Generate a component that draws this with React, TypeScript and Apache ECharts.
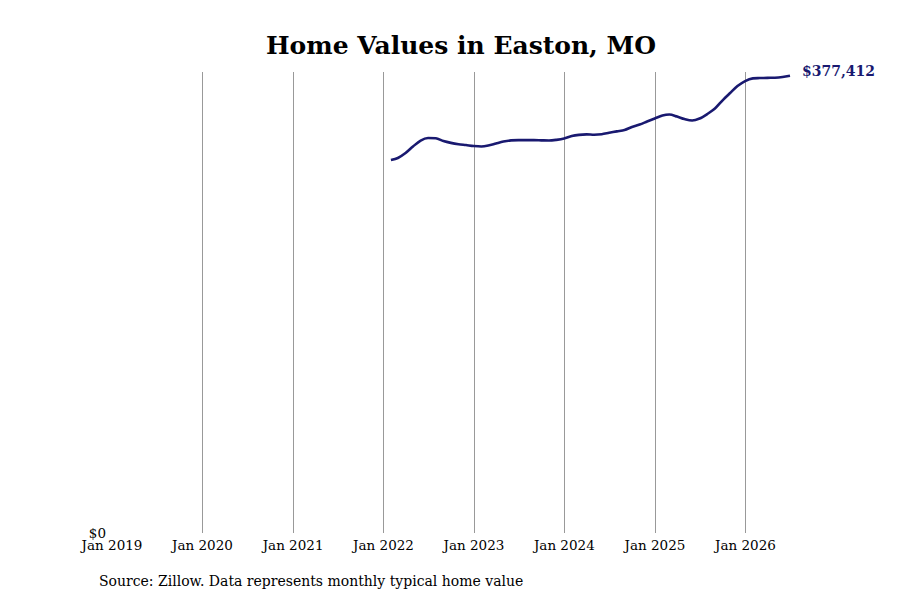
import { useEffect, useRef } from 'react';
import * as echarts from 'echarts';

// Zillow typical home value, monthly (month-end), Jan 2022 .. Jun 2026
const START_YEAR = 2022;
const START_MONTH = 1;
const homeValues = [
  307840, 309490, 313610, 318980, 323930, 326000, 325800, 323500, 322000, 320900,
  320200, 319400, 319000, 319800, 321500, 323100, 324100, 324300, 324300, 324300,
  324100, 323900, 324500, 325600, 327600, 328600, 329000, 328700, 329100, 330300,
  331500, 332600, 335070, 337140, 339600, 342090, 344560, 345390, 343740, 341670,
  340440, 342090, 345800, 350340, 356940, 363130, 368910, 373040, 375260, 375510,
  375680, 375760, 376340, 377412,
];
// vertical year gridlines (Jan 2019 sits on the plot edge and has none)
const gridYears = [2020, 2021, 2022, 2023, 2024, 2025, 2026];
const Y_MAX = 380500;

const TITLE = 'Home Values in Easton, MO';
const SOURCE = 'Source: Zillow. Data represents monthly typical home value';
const LINE_COLOR = '#191970';
const FONT = '"DejaVu Serif", serif';

const fmtMoney = (v: number) => '$' + Math.round(v).toLocaleString('en-US');

export default function App() {
  const ref = useRef<HTMLDivElement>(null);

  useEffect(() => {
    const dom = ref.current!;
    const chart = echarts.init(dom, null, { renderer: 'svg' });

    const points = homeValues.map((v, i) => {
      const d = new Date(START_YEAR, START_MONTH - 1 + i + 1, 0);
      return [d.getTime(), v];
    });

    chart.setOption({
      animation: false,
      textStyle: { fontFamily: FONT },
      title: {
        text: TITLE,
        left: 261,
        top: 28,
        textStyle: { fontFamily: FONT, fontSize: 25, fontWeight: 'bold', color: '#000' },
      },
      grid: { left: 112, right: 110, top: 72, bottom: 67 },
      xAxis: {
        type: 'time',
        min: new Date(2019, 0, 1).getTime(),
        max: new Date(2026, 5, 30).getTime(),
        minInterval: 365 * 24 * 3600 * 1000,
        maxInterval: 366 * 24 * 3600 * 1000,
        axisLine: { show: false },
        axisTick: { show: false },
        axisLabel: {
          margin: 5,
          fontSize: 13.5,
          color: '#000',
          fontFamily: FONT,
          formatter: (val: number) => 'Jan ' + new Date(val).getFullYear(),
        },
        splitLine: { show: false },
      },
      yAxis: {
        type: 'value',
        min: 0,
        max: Y_MAX,
        interval: Y_MAX,
        axisLine: { show: false },
        axisTick: { show: false },
        splitLine: { show: false },
        axisLabel: {
          margin: 6,
          fontSize: 13.5,
          color: '#000',
          fontFamily: FONT,
          verticalAlign: 'middle',
          padding: [4, 0, 0, 0],
          formatter: (v: number) => (v === 0 ? '$0' : ''),
        },
      },
      graphic: [
        {
          type: 'text',
          left: 99,
          top: 574,
          style: { text: SOURCE, font: `14px ${FONT}`, fill: '#000' },
        },
      ],
      series: [
        {
          type: 'line',
          data: points,
          showSymbol: false,
          smooth: 0.3,
          z: 3,
          lineStyle: { color: LINE_COLOR, width: 2.6 },
          itemStyle: { color: LINE_COLOR },
          endLabel: {
            show: true,
            distance: 12,
            offset: [0, -5],
            formatter: (p: any) => fmtMoney(p.value[1]),
            fontFamily: FONT,
            fontSize: 14,
            fontWeight: 'bold',
            color: LINE_COLOR,
          },
          markLine: {
            silent: true,
            symbol: ['none', 'none'],
            label: { show: false },
            lineStyle: { color: '#999', width: 1, type: 'solid' },
            emphasis: { disabled: true },
            z: 1,
            data: gridYears.map((y) => ({ xAxis: new Date(y, 0, 1).getTime() })),
          },
        },
      ],
    } as echarts.EChartsOption);

    return () => {
      chart.dispose();
    };
  }, []);

  return (
    <div
      ref={ref}
      style={{ position: 'absolute', left: 0, top: 0, width: 900, height: 600, background: '#fff' }}
    />
  );
}
